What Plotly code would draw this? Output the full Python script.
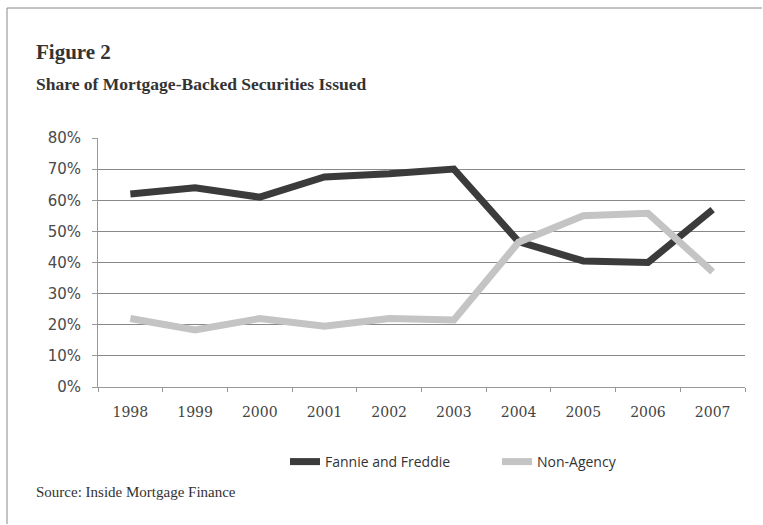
import plotly.graph_objects as go

years = ["1998", "1999", "2000", "2001", "2002", "2003", "2004", "2005", "2006", "2007"]
fannie_freddie = [0.62, 0.64, 0.61, 0.675, 0.685, 0.70, 0.467, 0.405, 0.40, 0.57]
non_agency = [0.22, 0.183, 0.22, 0.195, 0.22, 0.215, 0.465, 0.55, 0.558, 0.37]
y_ticks = [0, 0.1, 0.2, 0.3, 0.4, 0.5, 0.6, 0.7, 0.8]
y_tick_labels = ["0%", "10%", "20%", "30%", "40%", "50%", "60%", "70%", "80%"]

W, H = 763, 525
ml, mr, mt, mb = 98, 18, 138, 138
ph = H - mt - mb
pw = W - ml - mr
def py(pix):
    return (H - mb - pix) / ph
def px(pix):
    return (pix - ml) / pw

fig = go.Figure()
fig.add_trace(go.Scatter(x=years, y=fannie_freddie, mode="lines", name="Fannie and Freddie",
                         line=dict(color="#3b3b3b", width=7), legend="legend"))
fig.add_trace(go.Scatter(x=years, y=non_agency, mode="lines", name="Non-Agency",
                         line=dict(color="#c4c4c4", width=7), legend="legend2"))

legend_font = dict(family="Open Sans", size=14, color="#333")
fig.update_layout(
    width=W, height=H,
    margin=dict(l=ml, r=mr, t=mt, b=mb),
    paper_bgcolor="white", plot_bgcolor="white",
    showlegend=True,
    legend=dict(orientation="h", x=px(285), xanchor="left", y=py(462), yanchor="middle",
                font=legend_font, itemwidth=30, bgcolor="rgba(0,0,0,0)"),
    legend2=dict(orientation="h", x=px(497), xanchor="left", y=py(462), yanchor="middle",
                 font=legend_font, itemwidth=30, bgcolor="rgba(0,0,0,0)"),
    xaxis=dict(type="category", showgrid=False, showline=True, linecolor="#999", linewidth=1,
               ticks="outside", ticklen=4, tickcolor="#999", tickson="boundaries",
               tickfont=dict(family="DejaVu Serif", size=14, color="#444"),
               ticklabelstandoff=12, range=[-0.5, 9.5]),
    yaxis=dict(range=[0, 0.8], tickvals=y_ticks, ticktext=y_tick_labels,
               showgrid=True, gridcolor="#888", gridwidth=1,
               showline=True, linecolor="#999", linewidth=1,
               ticks="outside", ticklen=5, tickcolor="#999",
               tickfont=dict(family="DejaVu Sans", size=15, color="#4a4a4a"),
               ticklabelstandoff=8,
               zeroline=False),
    font=dict(family="DejaVu Sans"),
)

fig.add_annotation(xref="paper", yref="paper", x=px(34), y=py(52), xanchor="left", yanchor="middle",
                   text="<b>Figure 2</b>", showarrow=False,
                   font=dict(family="Liberation Serif", size=21, color="#333"))
fig.add_annotation(xref="paper", yref="paper", x=px(34), y=py(84), xanchor="left", yanchor="middle",
                   text="<b>Share of Mortgage-Backed Securities Issued</b>", showarrow=False,
                   font=dict(family="Liberation Serif", size=17.5, color="#333"))
fig.add_annotation(xref="paper", yref="paper", x=px(34), y=py(492), xanchor="left", yanchor="middle",
                   text="Source: Inside Mortgage Finance", showarrow=False,
                   font=dict(family="Liberation Serif", size=15, color="#333"))

# outer frame (top and left edges) as one open path
fx0, fx1, fy0, fy1 = px(7), px(762), py(8), py(524)
fig.add_shape(type="path", xref="paper", yref="paper",
              path=f"M {fx0},{fy1} L {fx0},{fy0} L {fx1},{fy0}",
              line=dict(color="#888", width=1), fillcolor="rgba(0,0,0,0)")

fig.write_html("out.html")
